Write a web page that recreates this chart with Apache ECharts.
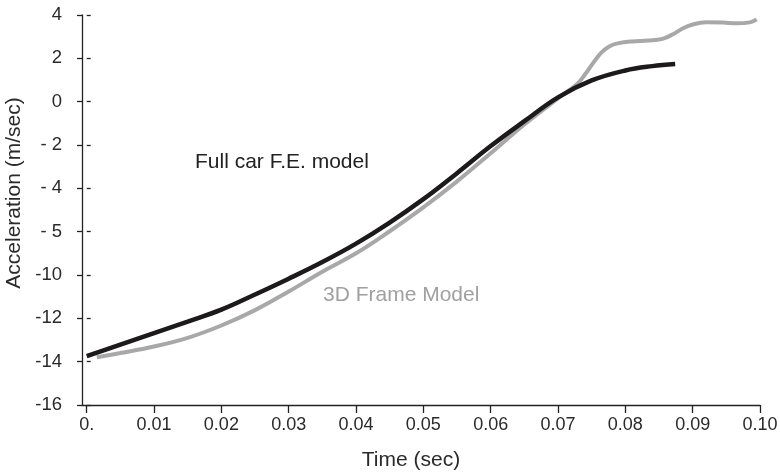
<!DOCTYPE html>
<html>
<head>
<meta charset="utf-8">
<script src="https://cdn.jsdelivr.net/npm/echarts@6/dist/echarts.min.js"></script>
<style>html,body{margin:0;padding:0;background:#fff}#c{width:780px;height:474px}</style>
</head>
<body>
<div id="c"></div>
<script>
// Tick labels as printed on the reference
var xTickValues = [0, 0.01, 0.02, 0.03, 0.04, 0.05, 0.06, 0.07, 0.08, 0.09, 0.10];
var xTickLabels = ['0.', '0.01', '0.02', '0.03', '0.04', '0.05', '0.06', '0.07', '0.08', '0.09', '0.10'];
var yTickLabels = ['-16', '-14', '-12', '-10', '- 5', '- 4', '- 2', '0', '2', '4'];

// Full car F.E. model  [time (s), acceleration]
var fullCarFE = [
  [0.000, -11.74], [0.005, -11.21], [0.010, -10.68], [0.015, -10.15],
  [0.020, -9.60], [0.025, -8.90], [0.030, -8.17], [0.035, -7.40],
  [0.040, -6.55], [0.045, -5.58], [0.050, -4.50], [0.055, -3.30],
  [0.060, -2.05], [0.065, -0.90], [0.070, 0.20], [0.075, 0.98],
  [0.080, 1.44], [0.084, 1.64], [0.0874, 1.74]
];

// 3D Frame Model
var frame3D = [
  [0.0015, -11.80], [0.005, -11.60], [0.010, -11.30], [0.015, -10.90],
  [0.020, -10.33], [0.025, -9.62], [0.030, -8.76], [0.035, -7.85],
  [0.040, -7.00], [0.045, -5.98], [0.050, -4.88], [0.055, -3.68],
  [0.060, -2.38], [0.065, -1.05], [0.070, 0.15], [0.0728, 0.80],
  [0.0740, 1.25], [0.0752, 1.78], [0.0764, 2.25], [0.0776, 2.55],
  [0.0790, 2.70], [0.0810, 2.78], [0.0835, 2.82], [0.0855, 2.90],
  [0.0870, 3.10], [0.0885, 3.38], [0.0900, 3.56], [0.0920, 3.66],
  [0.0945, 3.65], [0.0965, 3.62], [0.0985, 3.66], [0.0995, 3.80]
];

var FONT = "'Liberation Sans', Arial, Helvetica, sans-serif";
var chart = echarts.init(document.getElementById('c'), null, {renderer: 'canvas'});
var axisColor = '#222';

chart.setOption({
  animation: false,
  backgroundColor: '#fff',
  grid: {left: 82, right: 20, top: 15, bottom: 69, containLabel: false, outerBoundsMode: 'none'},
  xAxis: {
    type: 'value',
    min: -0.0007,
    max: 0.1,
    name: 'Time (sec)',
    nameLocation: 'middle',
    nameGap: 45,
    nameTextStyle: {fontFamily: FONT, fontSize: 21, color: '#2a2a2a', padding: [0, 20, 0, 0]},
    axisLine: {show: true, onZero: false, lineStyle: {color: axisColor, width: 1.3}},
    axisTick: {show: true, customValues: xTickValues, length: 8, lineStyle: {color: axisColor, width: 1.3}},
    axisLabel: {
      customValues: xTickValues,
      margin: 11,
      fontFamily: FONT, fontSize: 18, color: '#2a2a2a',
      formatter: function (v) { return xTickLabels[Math.round(v * 100)]; }
    },
    splitLine: {show: false}
  },
  yAxis: [{
    type: 'value',
    min: -14,
    max: 4,
    interval: 2,
    position: 'left',
    name: 'Acceleration (m/sec)',
    nameLocation: 'middle',
    nameGap: 54,
    nameRotate: 90,
    nameTextStyle: {fontFamily: FONT, fontSize: 21, color: '#2a2a2a', padding: [0, 0, 0, 34]},
    axisLine: {show: true, onZero: false, lineStyle: {color: axisColor, width: 1.3}},
    axisTick: {show: true, length: 5, lineStyle: {color: axisColor, width: 1.3}},
    axisLabel: {
      margin: 20,
      fontFamily: FONT, fontSize: 18.5, color: '#2a2a2a',
      formatter: function (v) { return yTickLabels[Math.round((v + 14) / 2)]; }
    },
    splitLine: {show: false}
  }, {
    type: 'value',
    min: -14,
    max: 4,
    interval: 2,
    position: 'left',
    offset: 0,
    axisLine: {show: false},
    axisTick: {show: true, inside: true, length: 4, lineStyle: {color: axisColor, width: 1.3}},
    axisLabel: {show: false},
    splitLine: {show: false}
  }],
  series: [{
    name: '3D Frame Model',
    type: 'line',
    data: frame3D,
    smooth: 0.4,
    showSymbol: false,
    lineStyle: {color: '#a8a8a8', width: 4},
    z: 2
  }, {
    name: 'Full car F.E. model',
    type: 'line',
    data: fullCarFE,
    smooth: 0.4,
    showSymbol: false,
    lineStyle: {color: '#1c1a1b', width: 4.5},
    z: 3
  }],
  graphic: [{
    type: 'text', left: 195, top: 152,
    style: {text: 'Full car F.E. model', font: '21px ' + FONT, fill: '#222'}
  }, {
    type: 'text', left: 323, top: 285,
    style: {text: '3D Frame Model', font: '21px ' + FONT, fill: '#a0a0a0'}
  }]
});
</script>
</body>
</html>
